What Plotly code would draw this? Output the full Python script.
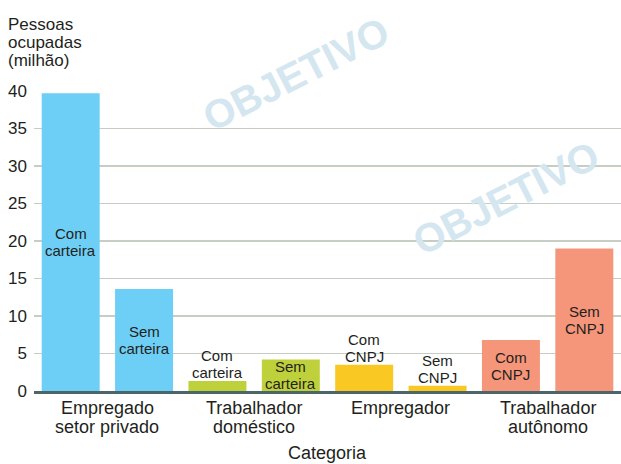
import plotly.graph_objects as go

# ---- data ----
group_lines = [["Empregado", "setor privado"],
               ["Trabalhador", "doméstico"],
               ["Empregador"],
               ["Trabalhador", "autônomo"]]
bar_labels = [["Com", "carteira"], ["Sem", "carteira"],
              ["Com", "carteira"], ["Sem", "carteira"],
              ["Com", "CNPJ"], ["Sem", "CNPJ"],
              ["Com", "CNPJ"], ["Sem", "CNPJ"]]
values = [39.7, 13.6, 1.35, 4.2, 3.5, 0.7, 6.8, 19.0]
label_inside = [True, True, False, True, False, False, True, True]
group_colors = ["#6dcff6", "#bed13b", "#f9c822", "#f5967a"]
y_title_lines = ["Pessoas", "ocupadas", "(milhão)"]
x_title = "Categoria"
y_ticks = [0, 5, 10, 15, 20, 25, 30, 35, 40]
watermark = "OBJETIVO"

FONT = "Liberation Sans, Arial, sans-serif"
TXT = "#231f20"

xs = list(range(len(values)))
colors = [group_colors[i // 2] for i in xs]

fig = go.Figure()
fig.add_trace(go.Bar(x=xs, y=values, marker_color=colors, marker_line_width=0,
                     width=0.79, hoverinfo="skip"))

ann = []
# faint watermark
wm = dict(text="<b>" + watermark + "</b>", showarrow=False, textangle=-27,
          font=dict(family=FONT, size=40, color="#d4e6ef"),
          xref="paper", yref="paper", xanchor="center", yanchor="middle")
for (px, py) in [(296, 74), (506, 198)]:
    ann.append(dict(wm, x=(px - 34) / 587, y=(391 - py) / 300))

# bar labels
for i, (v, lines, inside) in enumerate(zip(values, bar_labels, label_inside)):
    n = len(lines)
    for j, line in enumerate(lines):
        if inside:
            y = v / 2
            shift = (n - 1) / 2 * 17 - j * 17
        else:
            y = v
            shift = 8.5 + (n - 1 - j) * 17
        ann.append(dict(x=i, y=y, xref="x", yref="y", text=line, showarrow=False,
                        yshift=shift, xanchor="center", yanchor="middle",
                        font=dict(family=FONT, size=15, color=TXT)))

# group (category) labels
for g, lines in enumerate(group_lines):
    for j, line in enumerate(lines):
        ann.append(dict(x=2 * g + 0.5, y=0, xref="x", yref="paper", text=line,
                        showarrow=False, yshift=-16.5 - j * 19,
                        xanchor="center", yanchor="middle",
                        font=dict(family=FONT, size=18, color=TXT)))
ann.append(dict(x=3.5, y=0, xref="x", yref="paper", text=x_title, showarrow=False,
                yshift=-61.5, xanchor="center", yanchor="middle",
                font=dict(family=FONT, size=18, color=TXT)))

# y title
for j, line in enumerate(y_title_lines):
    ann.append(dict(x=0, y=1, xref="paper", yref="paper", text=line, showarrow=False,
                    xshift=-28, yshift=67 - j * 18.3, xanchor="left", yanchor="middle",
                    font=dict(family=FONT, size=17, color=TXT)))

fig.update_layout(
    width=621, height=464,
    margin=dict(l=34, r=0, t=91, b=73, autoexpand=False),
    paper_bgcolor="white", plot_bgcolor="white",
    showlegend=False,
    annotations=ann,
    font=dict(family=FONT, color=TXT),
)
fig.update_xaxes(range=[-0.5, 7.5], showticklabels=False, showgrid=False,
                 zeroline=False, showline=True, linewidth=3, linecolor="#4b6568",
                 ticks="", automargin=False)
fig.update_yaxes(range=[0, 40], tickvals=y_ticks, showgrid=True,
                 gridcolor="#c6cec4", gridwidth=1.6, zeroline=False, showline=False,
                 ticks="", ticklabelstandoff=6, automargin=False,
                 tickfont=dict(family=FONT, size=17, color=TXT))

fig.write_html("out.html", config={"displayModeBar": False, "staticPlot": True},
               post_script="document.body.style.margin='0';document.body.style.overflow='hidden';")
